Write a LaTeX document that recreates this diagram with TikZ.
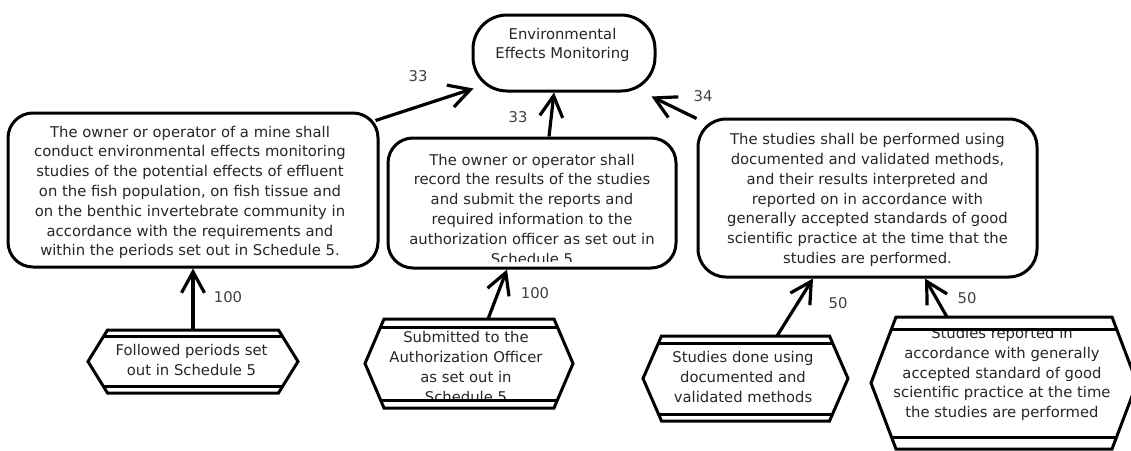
\documentclass[tikz,border=0pt]{standalone}
\usepackage{fontspec}
\setmainfont{DejaVu Sans}
\usetikzlibrary{arrows.meta}

% banded hexagon: name, cx, cy, half width, half height, slant, band, text centre, text
\newcommand{\hexbox}[9]{%
  \begin{scope}
    \clip (#2-#4,#3-#5+#7) rectangle (#2+#4,#3+#5-#7);
    \node[txt] (#1) at (#8) {#9};
  \end{scope}
  \coordinate (#1-top) at (#2,#3-#5);
  \draw[hexline] (#2-#4,#3) -- (#2-#4+#6,#3-#5) -- (#2+#4-#6,#3-#5) -- (#2+#4,#3)
    -- (#2+#4-#6,#3+#5) -- (#2-#4+#6,#3+#5) -- cycle;
  \draw[hexline] (#2-#4+#6-#6*#7/#5,#3-#5+#7) -- (#2+#4-#6+#6*#7/#5,#3-#5+#7);
  \draw[hexline] (#2-#4+#6-#6*#7/#5,#3+#5-#7) -- (#2+#4-#6+#6*#7/#5,#3+#5-#7);
}

\begin{document}
\begin{tikzpicture}[x=1pt,y=-1pt,
  txt/.style={align=center,inner sep=0pt,text=black!85,font=\fontsize{14.8}{19.8}\selectfont},
  roundbox/.style={draw,line width=3pt,rounded corners=#1,inner sep=0pt},
  hexline/.style={line width=3pt,line join=miter},
  flow/.style={line width=3.2pt,-{Straight Barb[length=21pt,width=23pt]}},
  lbl/.style={inner sep=0pt,text=black!75,font=\fontsize{14.8}{18}\selectfont}]
\useasboundingbox (0,0) rectangle (1131,450);
\clip (0,0) rectangle (1131,450);
%Boxes
\node[roundbox=34pt,minimum width=182pt,minimum height=76pt] (env) at (564,53) {};
\node[txt] (envtext) at (562.5,45) {Environmental\\Effects Monitoring};
\node[roundbox=25pt,minimum width=370pt,minimum height=154pt] (lbox) at (193,190) {};
\node[txt] (ltext) at (190,192.5) {The owner or operator of a mine shall\\conduct environmental effects monitoring\\studies of the potential effects of effluent\\on the fish population, on fish tissue and\\on the benthic invertebrate community in\\accordance with the requirements and\\within the periods set out in Schedule 5.};
\begin{scope}
  \clip (388,138) rectangle (676,261);
  \node[txt] (mtext) at (532,209) {The owner or operator shall\\record the results of the studies\\and submit the reports and\\required information to the\\authorization officer as set out in\\Schedule 5};
\end{scope}
\node[roundbox=25pt,minimum width=288pt,minimum height=130pt] (mbox) at (532,203) {};
\node[roundbox=28pt,minimum width=339pt,minimum height=158pt] (rbox) at (867.5,198) {};
\node[txt] (rtext) at (867.5,200) {The studies shall be performed using\\documented and validated methods,\\and their results interpreted and\\reported on in accordance with\\generally accepted standards of good\\scientific practice at the time that the\\studies are performed.};
%Hexagons
\hexbox{h1}{193}{361.5}{105}{31.5}{19.5}{6.5}{191.5,360}{Followed periods set\\out in Schedule 5}
\hexbox{h2}{469}{363.5}{104}{44.5}{19}{8}{466,367}{Submitted to the\\Authorization Officer\\as set out in\\Schedule 5}
\hexbox{h3}{745.5}{378.5}{102.5}{42.5}{18.5}{7}{743,377}{Studies done using\\documented and\\validated methods}
\hexbox{h4}{1004}{383}{133}{66}{25}{12}{1002,374}{Studies reported in\\accordance with generally\\accepted standard of good\\scientific practice at the time\\the studies are performed}
%Arrows
\draw[flow] ([xshift=-4pt,yshift=-9pt]lbox.north east) -- ([xshift=2pt,yshift=4pt]env.south west);
\draw[flow] ([xshift=17pt]mbox.north) -- ([xshift=-10pt]env.south);
\draw[flow] ([yshift=-1pt]rbox.north west) -- ([xshift=-5pt,yshift=-4pt]env.south east);
\draw[flow] (h1-top) -- (lbox.south);
\draw[flow] ([xshift=19pt]h2-top) -- ([xshift=-25pt]mbox.south);
\draw[flow] ([xshift=31.5pt]h3-top) -- ([xshift=-54.5pt]rbox.south);
\draw[flow] ([xshift=-57pt]h4-top) -- ([xshift=57.5pt]rbox.south);
%Text
\node[lbl] (w1) at (418,76) {33};
\node[lbl] (w2) at (518,117) {33};
\node[lbl] (w3) at (703,96) {34};
\node[lbl] (w4) at (228,297) {100};
\node[lbl] (w5) at (535,293) {100};
\node[lbl] (w6) at (838,303) {50};
\node[lbl] (w7) at (967,298) {50};
\end{tikzpicture}
\end{document}
